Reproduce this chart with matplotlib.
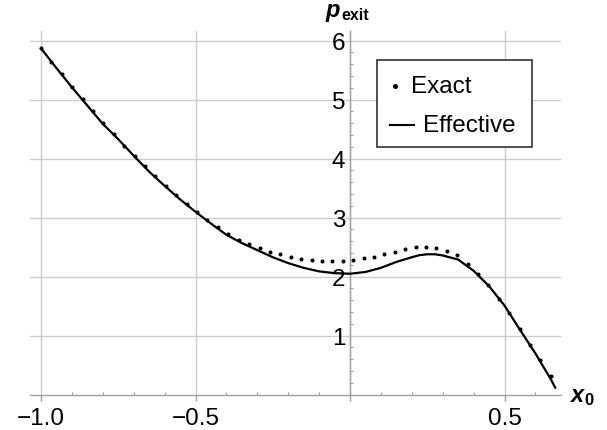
import matplotlib.pyplot as plt
import numpy as np
from matplotlib.lines import Line2D
from matplotlib.patches import Rectangle

plt.rcParams["font.family"] = ["Liberation Sans", "DejaVu Sans"]

# Datos
exact_x = np.linspace(-1.0, 0.65, 50)
exact_y = [
    5.87, 5.64, 5.43, 5.21, 5.01, 4.80, 4.60, 4.41, 4.22, 4.04,
    3.87, 3.71, 3.54, 3.38, 3.23, 3.10, 2.96, 2.84, 2.73, 2.63,
    2.56, 2.48, 2.42, 2.38, 2.33, 2.30, 2.28, 2.27, 2.27, 2.27,
    2.28, 2.31, 2.34, 2.38, 2.42, 2.47, 2.50, 2.51, 2.49, 2.43,
    2.36, 2.21, 2.05, 1.86, 1.62, 1.38, 1.11, 0.85, 0.59, 0.31,
]

effective_x = [
    -1.00, -0.95, -0.90, -0.85, -0.80, -0.75, -0.70, -0.65, -0.60, -0.55,
    -0.50, -0.45, -0.40, -0.35, -0.30, -0.25, -0.20, -0.15, -0.10, -0.05,
    0.00, 0.05, 0.10, 0.15, 0.20, 0.225, 0.25, 0.275, 0.30, 0.35,
    0.40, 0.45, 0.50, 0.55, 0.60, 0.65, 0.664,
]
effective_y = [
    5.87, 5.535, 5.21, 4.90, 4.59, 4.33, 4.05, 3.78, 3.54, 3.31,
    3.10, 2.90, 2.71, 2.57, 2.45, 2.33, 2.23, 2.15, 2.09, 2.06,
    2.05, 2.08, 2.15, 2.25, 2.33, 2.365, 2.38, 2.38, 2.36, 2.29,
    2.10, 1.84, 1.51, 1.10, 0.70, 0.26, 0.12,
]

x_major = [-1.0, -0.5, 0.0, 0.5]
x_major_labels = ["\u22121.0", "\u22120.5", "", "0.5"]
x_minor = [-0.9, -0.8, -0.7, -0.6, -0.4, -0.3, -0.2, -0.1, 0.1, 0.2, 0.3, 0.4, 0.6]
y_major = [1, 2, 3, 4, 5, 6]
y_minor = [0.2, 0.4, 0.6, 0.8, 1.2, 1.4, 1.6, 1.8, 2.2, 2.4, 2.6, 2.8,
           3.2, 3.4, 3.6, 3.8, 4.2, 4.4, 4.6, 4.8, 5.2, 5.4, 5.6, 5.8, 6.0]

W, H = 607, 431


def fig_xy(px, py):
    # píxeles (origen arriba a la izquierda) -> fracción de figura
    return px / W, 1 - py / H


figure = plt.figure(figsize=(W / 100, H / 100), dpi=100, facecolor="white")
axis = figure.add_axes([30 / W, (H - 395.7) / H, (561 - 30) / W, (395.7 - 31.7) / H])

axis.plot(effective_x, effective_y, color="black", linewidth=1.6, solid_joinstyle="round", zorder=3)
axis.plot(exact_x, exact_y, "o", color="black", markersize=2.9, markeredgewidth=0, zorder=4)

axis.set_xlim(-1.0356, 0.6828)
axis.set_ylim(0, 6.169)

axis_color = "#a0a0a0"
axis.spines["left"].set_position(("data", 0))
axis.spines["top"].set_visible(False)
axis.spines["right"].set_visible(False)
for name in ("left", "bottom"):
    axis.spines[name].set_color(axis_color)
    axis.spines[name].set_linewidth(1.0)

axis.set_xticks(x_major)
axis.set_xticklabels(x_major_labels)
axis.set_xticks(x_minor, minor=True)
axis.set_yticks(y_major)
axis.set_yticklabels([str(v) for v in y_major])
axis.set_yticks(y_minor, minor=True)

axis.tick_params(axis="x", which="major", direction="out", length=4.3, width=1.0, color=axis_color, pad=4.2, labelsize=17.5)
axis.tick_params(axis="x", which="minor", direction="in", length=2.3, width=0.8, color=axis_color)
axis.tick_params(axis="y", which="major", length=0, pad=3.4, labelsize=17.5)
axis.tick_params(axis="y", which="minor", direction="in", length=2.3, width=0.8, color=axis_color)

axis.grid(True, which="major", color="#cccccc", linewidth=1.0)

# Etiquetas de los ejes
x, y = fig_xy(326, 17)
figure.text(x, y, "p", fontsize=17, fontweight="bold", fontstyle="italic", va="baseline", ha="left")
x, y = fig_xy(341, 19.5)
figure.text(x, y, "exit", fontsize=11.5, fontweight="bold", va="baseline", ha="left")
x, y = fig_xy(570, 401.7)
figure.text(x, y, "x", fontsize=17, fontweight="bold", fontstyle="italic", va="baseline", ha="left")
x, y = fig_xy(584.5, 405.5)
figure.text(x, y, "0", fontsize=12, fontweight="bold", va="baseline", ha="left")

# Leyenda
x, y = fig_xy(377.3, 147.7)
figure.add_artist(Rectangle((x, y), 155 / W, 87 / H, transform=figure.transFigure,
                            facecolor="white", edgecolor="#333333", linewidth=1.2, zorder=5))
x, y = fig_xy(395, 87.3)
figure.add_artist(Line2D([x], [y], marker="o", markersize=3.6, markeredgewidth=0, color="black",
                         transform=figure.transFigure, zorder=6))
x0, y = fig_xy(390, 126)
x1, _ = fig_xy(414, 126)
figure.add_artist(Line2D([x0, x1], [y, y], color="black", linewidth=1.5, transform=figure.transFigure, zorder=6))
x, y = fig_xy(410.7, 92.7)
figure.text(x, y, "Exact", fontsize=17.5, va="baseline", ha="left", zorder=7)
x, y = fig_xy(423.3, 132.3)
figure.text(x, y, "Effective", fontsize=17.5, va="baseline", ha="left", zorder=7)

figure.savefig("out.png", dpi=100, facecolor="white")
plt.close(figure)
